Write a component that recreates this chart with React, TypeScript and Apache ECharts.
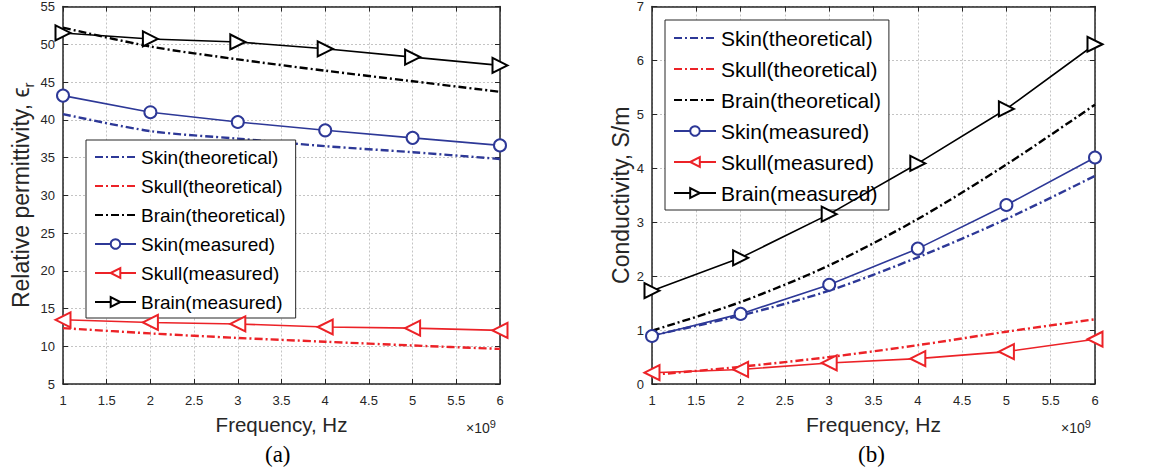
import React, { useEffect, useRef } from 'react';
import * as echarts from 'echarts';

const freq = [1, 2, 3, 4, 5, 6];
const seriesNames = [
  'Skin(theoretical)',
  'Skull(theoretical)',
  'Brain(theoretical)',
  'Skin(measured)',
  'Skull(measured)',
  'Brain(measured)',
];
// Relative permittivity (a)
const permSkinTheo = [40.75, 38.5, 37.5, 36.5, 35.7, 34.8];
const permSkullTheo = [12.4, 11.7, 11.1, 10.6, 10.1, 9.65];
const permBrainTheo = [52.2, 49.7, 48.0, 46.5, 45.1, 43.7];
const permSkinMeas = [43.2, 41.0, 39.7, 38.6, 37.6, 36.6];
const permSkullMeas = [13.5, 13.15, 12.95, 12.55, 12.4, 12.1];
const permBrainMeas = [51.5, 50.7, 50.3, 49.4, 48.3, 47.2];
// Conductivity (b)
const condSkinTheo = [0.9, 1.27, 1.73, 2.35, 3.06, 3.86];
const condSkullTheo = [0.17, 0.32, 0.5, 0.72, 0.97, 1.2];
const condBrainTheo = [0.99, 1.52, 2.2, 3.06, 4.07, 5.18];
const condSkinMeas = [0.89, 1.3, 1.84, 2.51, 3.32, 4.2];
const condSkullMeas = [0.21, 0.27, 0.39, 0.47, 0.6, 0.83];
const condBrainMeas = [1.73, 2.34, 3.15, 4.09, 5.1, 6.3];

const BLUE = '#2D3897';
const RED = '#EC2227';
const BLACK = '#000000';
const AX = '#262626';
const FONT = 'Liberation Sans, Arial, sans-serif';

const zip = (ys: number[]) => freq.map((f, i) => [f, ys[i]]);

function makeSeries(idx: number, theo: number[][], meas: number[][]) {
  const colors = [BLUE, RED, BLACK];
  const out: any[] = [];
  theo.forEach((d, i) => {
    out.push({
      name: seriesNames[i],
      type: 'line',
      xAxisIndex: idx * 2,
      yAxisIndex: idx * 2,
      data: zip(d),
      symbol: 'none',
      smooth: 0.3,
      z: 3,
      lineStyle: { color: colors[i], width: 2.4, type: [8, 3, 2, 3] },
      itemStyle: { color: colors[i] },
    });
  });
  const syms = ['emptyCircle', 'emptyTriangle', 'emptyTriangle'];
  const rots = [0, 90, -90];
  const sizes = [12, 15, 15];
  meas.forEach((d, i) => {
    out.push({
      name: seriesNames[3 + i],
      type: 'line',
      xAxisIndex: idx * 2,
      yAxisIndex: idx * 2,
      data: zip(d),
      symbol: syms[i],
      symbolRotate: rots[i],
      symbolSize: sizes[i],
      z: 4,
      lineStyle: { color: colors[i], width: 1.6 },
      itemStyle: { color: colors[i], borderColor: colors[i], borderWidth: 2 },
    });
  });
  return out;
}

function xAxes(grid: number, fontSize: number) {
  const base = {
    type: 'value',
    gridIndex: grid,
    min: 1,
    max: 6,
    interval: 0.5,
    axisLine: { show: true, onZero: false, lineStyle: { color: AX, width: 1.5 } },
    axisTick: { show: true, inside: true, length: 5, lineStyle: { color: AX, width: 1 } },
  };
  return [
    {
      ...base,
      position: 'bottom',
      axisLabel: { color: AX, fontSize: 13, margin: 10, fontFamily: FONT },
      splitLine: { show: true, lineStyle: { color: '#c4c4c4', type: [2, 2], width: 1 } },
      name: 'Frequency, Hz',
      nameLocation: 'middle',
      nameGap: 30,
      nameTextStyle: { color: AX, fontSize, fontFamily: FONT },
    },
    { ...base, position: 'top', axisLabel: { show: false }, splitLine: { show: false } },
  ];
}

function yAxes(grid: number, min: number, max: number, interval: number, name: any, nameGap: number, rich: any) {
  const base = {
    type: 'value',
    gridIndex: grid,
    min,
    max,
    interval,
    axisLine: { show: true, onZero: false, lineStyle: { color: AX, width: 1.5 } },
    axisTick: { show: true, inside: true, length: 5, lineStyle: { color: AX, width: 1 } },
  };
  return [
    {
      ...base,
      position: 'left',
      axisLabel: { color: AX, fontSize: 13, margin: 8, fontFamily: FONT },
      splitLine: { show: true, lineStyle: { color: '#c4c4c4', type: [2, 2], width: 1 } },
      name,
      nameLocation: 'middle',
      nameGap,
      nameRotate: 90,
      nameTextStyle: { color: AX, fontSize: 23, fontFamily: FONT, rich },
    },
    { ...base, position: 'right', axisLabel: { show: false }, splitLine: { show: false } },
  ];
}

const legendData = seriesNames.map((n, i) =>
  i < 3 ? { name: n, itemStyle: { opacity: 0 } } : { name: n }
);

export default function App() {
  const ref = useRef<HTMLDivElement>(null);
  useEffect(() => {
    if (!ref.current) return;
    const chart = echarts.init(ref.current, null, { renderer: 'svg' });
    const permRich = {
      sub: { fontSize: 15, color: AX, fontFamily: FONT, verticalAlign: 'bottom', lineHeight: 31 },
    };
    const supRich = { sup: { fontSize: 11, fill: AX, verticalAlign: 'top', padding: [0, 0, 8, 0] } };
    const option: any = {
      animation: false,
      backgroundColor: '#ffffff',
      textStyle: { fontFamily: FONT },
      grid: [
        { left: 63, top: 5, width: 437, height: 379, containLabel: false },
        { left: 652, top: 5, width: 443, height: 379, containLabel: false },
      ],
      xAxis: [...xAxes(0, 20.5), ...xAxes(1, 21)],
      yAxis: [
        ...yAxes(0, 5, 55, 5, 'Relative permittivity, ϵ{sub|r}', 27, permRich),
        ...yAxes(1, 0, 7, 1, 'Conductivity, S/m', 14, {}),
      ],
      legend: [
        {
          data: legendData,
          orient: 'vertical',
          left: 86,
          top: 140,
          itemWidth: 41,
          itemHeight: 12,
          itemGap: 9,
          padding: [7, 10, 6, 8],
          backgroundColor: '#ffffff',
          borderColor: AX,
          borderWidth: 1,
          textStyle: { color: '#000', fontSize: 19, lineHeight: 20, fontFamily: FONT },
        },
        {
          data: legendData,
          orient: 'vertical',
          left: 665,
          top: 20,
          itemWidth: 42,
          itemHeight: 12,
          itemGap: 9,
          padding: [7, 8, 6, 8],
          backgroundColor: '#ffffff',
          borderColor: AX,
          borderWidth: 1,
          textStyle: { color: '#000', fontSize: 21, lineHeight: 22, fontFamily: FONT },
        },
      ],
      series: [
        ...makeSeries(0, [permSkinTheo, permSkullTheo, permBrainTheo], [permSkinMeas, permSkullMeas, permBrainMeas]),
        ...makeSeries(1, [condSkinTheo, condSkullTheo, condBrainTheo], [condSkinMeas, condSkullMeas, condBrainMeas]),
      ],
      graphic: [
        {
          type: 'text', left: 265, top: 443,
          style: { text: '(a)', font: '23px "Liberation Serif", serif', fill: '#000' },
        },
        {
          type: 'text', left: 858, top: 443,
          style: { text: '(b)', font: '23px "Liberation Serif", serif', fill: '#000' },
        },
        {
          type: 'text', left: 466, top: 418,
          style: { text: '×10{sup|9}', fill: AX, fontSize: 14, fontFamily: FONT, rich: supRich },
        },
        {
          type: 'text', left: 1061, top: 418,
          style: { text: '×10{sup|9}', fill: AX, fontSize: 14, fontFamily: FONT, rich: supRich },
        },
      ],
    };
    chart.setOption(option);
    return () => chart.dispose();
  }, []);
  return (
    <div
      ref={ref}
      style={{ position: 'absolute', left: 0, top: 0, width: 1153, height: 476 }}
    />
  );
}
